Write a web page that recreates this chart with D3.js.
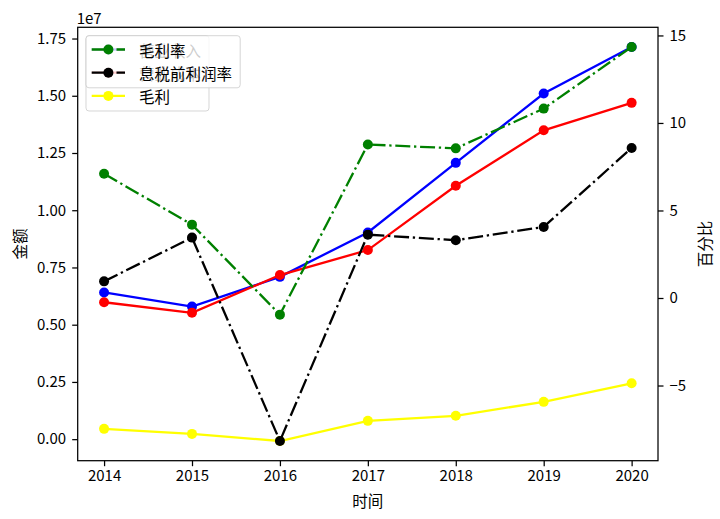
<!DOCTYPE html>
<html>
<head>
<meta charset="utf-8">
<script src="https://cdn.jsdelivr.net/npm/d3@7"></script>
<style>
  html, body { margin: 0; padding: 0; background: #fff; }
  svg { display: block; }
  text { font-family: "Noto Sans CJK SC", "Liberation Sans", sans-serif; fill: #000; }
</style>
</head>
<body>
<svg id="chart" width="720" height="519"></svg>
<script>
// ---- data ----
const years = [2014, 2015, 2016, 2017, 2018, 2019, 2020];
const revenue = [6410000, 5790000, 7090000, 9030000, 12070000, 15100000, 17130000]; // 营业收入
const cost    = [5980000, 5520000, 7170000, 8260000, 11070000, 13490000, 14690000]; // 营业成本
const gross   = [450000, 230000, -80000, 800000, 1020000, 1630000, 2440000];        // 毛利
const grossMargin = [7.1, 4.19, -0.95, 8.77, 8.55, 10.82, 14.34];                   // 毛利率
const ebitMargin  = [0.95, 3.45, -8.17, 3.62, 3.30, 4.06, 8.57];                    // 息税前利润率
const leftTicks  = [0, 2500000, 5000000, 7500000, 10000000, 12500000, 15000000, 17500000];
const rightTicks = [-5, 0, 5, 10, 15];
const leftSeries = [
  { name: "营业收入", values: revenue, color: "#0000ff" },
  { name: "营业成本", values: cost, color: "#ff0000" },
  { name: "毛利", values: gross, color: "#ffff00" }
];
const rightSeries = [
  { name: "毛利率", values: grossMargin, color: "#008000" },
  { name: "息税前利润率", values: ebitMargin, color: "#000000" }
];

// ---- layout ----
const L = 77.7, R = 658, T = 27.3, B = 460.7;
const svg = d3.select("#chart");
const fs = 15;

function padded(arrs) {
  const all = arrs.flat();
  const mn = d3.min(all), mx = d3.max(all), r = mx - mn;
  return [mn - 0.05 * r, mx + 0.05 * r];
}
const x = d3.scaleLinear().domain([years[0] - 0.3, years[years.length - 1] + 0.3]).range([L, R]);
const yL = d3.scaleLinear().domain(padded(leftSeries.map(s => s.values))).range([B, T]);
const yR = d3.scaleLinear().domain(padded(rightSeries.map(s => s.values))).range([B, T]);

const lw = 2.3;
const dash = "15,3.75,2.3,3.75";
const mr = 5;

function drawSeries(g, s, yScale, dashed) {
  const line = d3.line().x((d, i) => x(years[i])).y(d => yScale(d));
  g.append("path").datum(s.values).attr("d", line)
    .attr("fill", "none").attr("stroke", s.color).attr("stroke-width", lw)
    .attr("stroke-dasharray", dashed ? dash : null);
  g.selectAll(null).data(s.values).enter().append("circle")
    .attr("cx", (d, i) => x(years[i])).attr("cy", d => yScale(d)).attr("r", mr)
    .attr("fill", s.color);
}

const clip = svg.append("defs").append("clipPath").attr("id", "clip")
  .append("rect").attr("x", L).attr("y", T).attr("width", R - L).attr("height", B - T);

// left axis series
const gL = svg.append("g");
leftSeries.forEach(s => drawSeries(gL, s, yL, false));

// legend helper
function legend(items, dashed) {
  const g = svg.append("g");
  const x0 = 86, y0 = 35.7, rowH = 23.2;
  const maxChars = d3.max(items, d => d.name.length);
  const w = 139.3 - x0 + maxChars * 15.6 + 7.8 - 0.5;
  const h = 14.2 + (items.length - 1) * rowH + 14.2 + 0.5;
  g.append("rect").attr("x", x0).attr("y", y0).attr("width", w).attr("height", h)
    .attr("rx", 3).attr("fill", "#fff").attr("fill-opacity", 0.8)
    .attr("stroke", "#cccccc").attr("stroke-opacity", 0.8).attr("stroke-width", 1);
  items.forEach((d, i) => {
    const cy = 49.5 + i * rowH;
    g.append("line").attr("x1", 91.7).attr("x2", 125).attr("y1", cy).attr("y2", cy)
      .attr("stroke", d.color).attr("stroke-width", lw)
      .attr("stroke-dasharray", dashed ? dash : null);
    g.append("circle").attr("cx", 108.4).attr("cy", cy).attr("r", mr).attr("fill", d.color);
    g.append("text").attr("x", 139).attr("y", cy).attr("dominant-baseline", "central")
      .attr("font-size", 15.5).text(d.name);
  });
}
legend(leftSeries, false);

// right axis series
const gR = svg.append("g");
rightSeries.forEach(s => drawSeries(gR, s, yR, true));
legend(rightSeries, true);

// frame
svg.append("rect").attr("x", L).attr("y", T).attr("width", R - L).attr("height", B - T)
  .attr("fill", "none").attr("stroke", "#000").attr("stroke-width", 1.25);

// axes
const axX = d3.axisBottom(x).tickValues(years).tickFormat(d3.format("d")).tickSize(5.5).tickPadding(4);
const axL = d3.axisLeft(yL).tickValues(leftTicks).tickFormat(d => (d / 1e7).toFixed(2)).tickSize(5.5).tickPadding(6);
const axR = d3.axisRight(yR).tickValues(rightTicks).tickFormat(d => d < 0 ? "\u2212" + Math.abs(d) : d).tickSize(5.5).tickPadding(6);

function style(g) {
  g.select(".domain").remove();
  g.selectAll(".tick line").attr("stroke", "#000").attr("stroke-width", 1.25);
  g.selectAll(".tick text").attr("font-size", fs).attr("font-family", "'Liberation Sans', sans-serif");
}
svg.append("g").attr("transform", `translate(0,${B})`).call(axX).call(style);
svg.append("g").attr("transform", `translate(${L},0)`).call(axL).call(style);
svg.append("g").attr("transform", `translate(${R},0)`).call(axR).call(style);

// labels
svg.append("text").attr("x", L - 1).attr("y", 24).attr("font-size", fs)
  .attr("font-family", "'Liberation Sans', sans-serif").text("1e7");
svg.append("text").attr("transform", `translate(19,${(T + B) / 2}) rotate(-90)`)
  .attr("text-anchor", "middle").attr("dominant-baseline", "central").attr("font-size", 15.5).text("金额");
svg.append("text").attr("transform", `translate(704,${(T + B) / 2}) rotate(-90)`)
  .attr("text-anchor", "middle").attr("dominant-baseline", "central").attr("font-size", 15.5).text("百分比");
svg.append("text").attr("x", (L + R) / 2).attr("y", 500).attr("text-anchor", "middle")
  .attr("dominant-baseline", "central").attr("font-size", 15.5).text("时间");
</script>
</body>
</html>
